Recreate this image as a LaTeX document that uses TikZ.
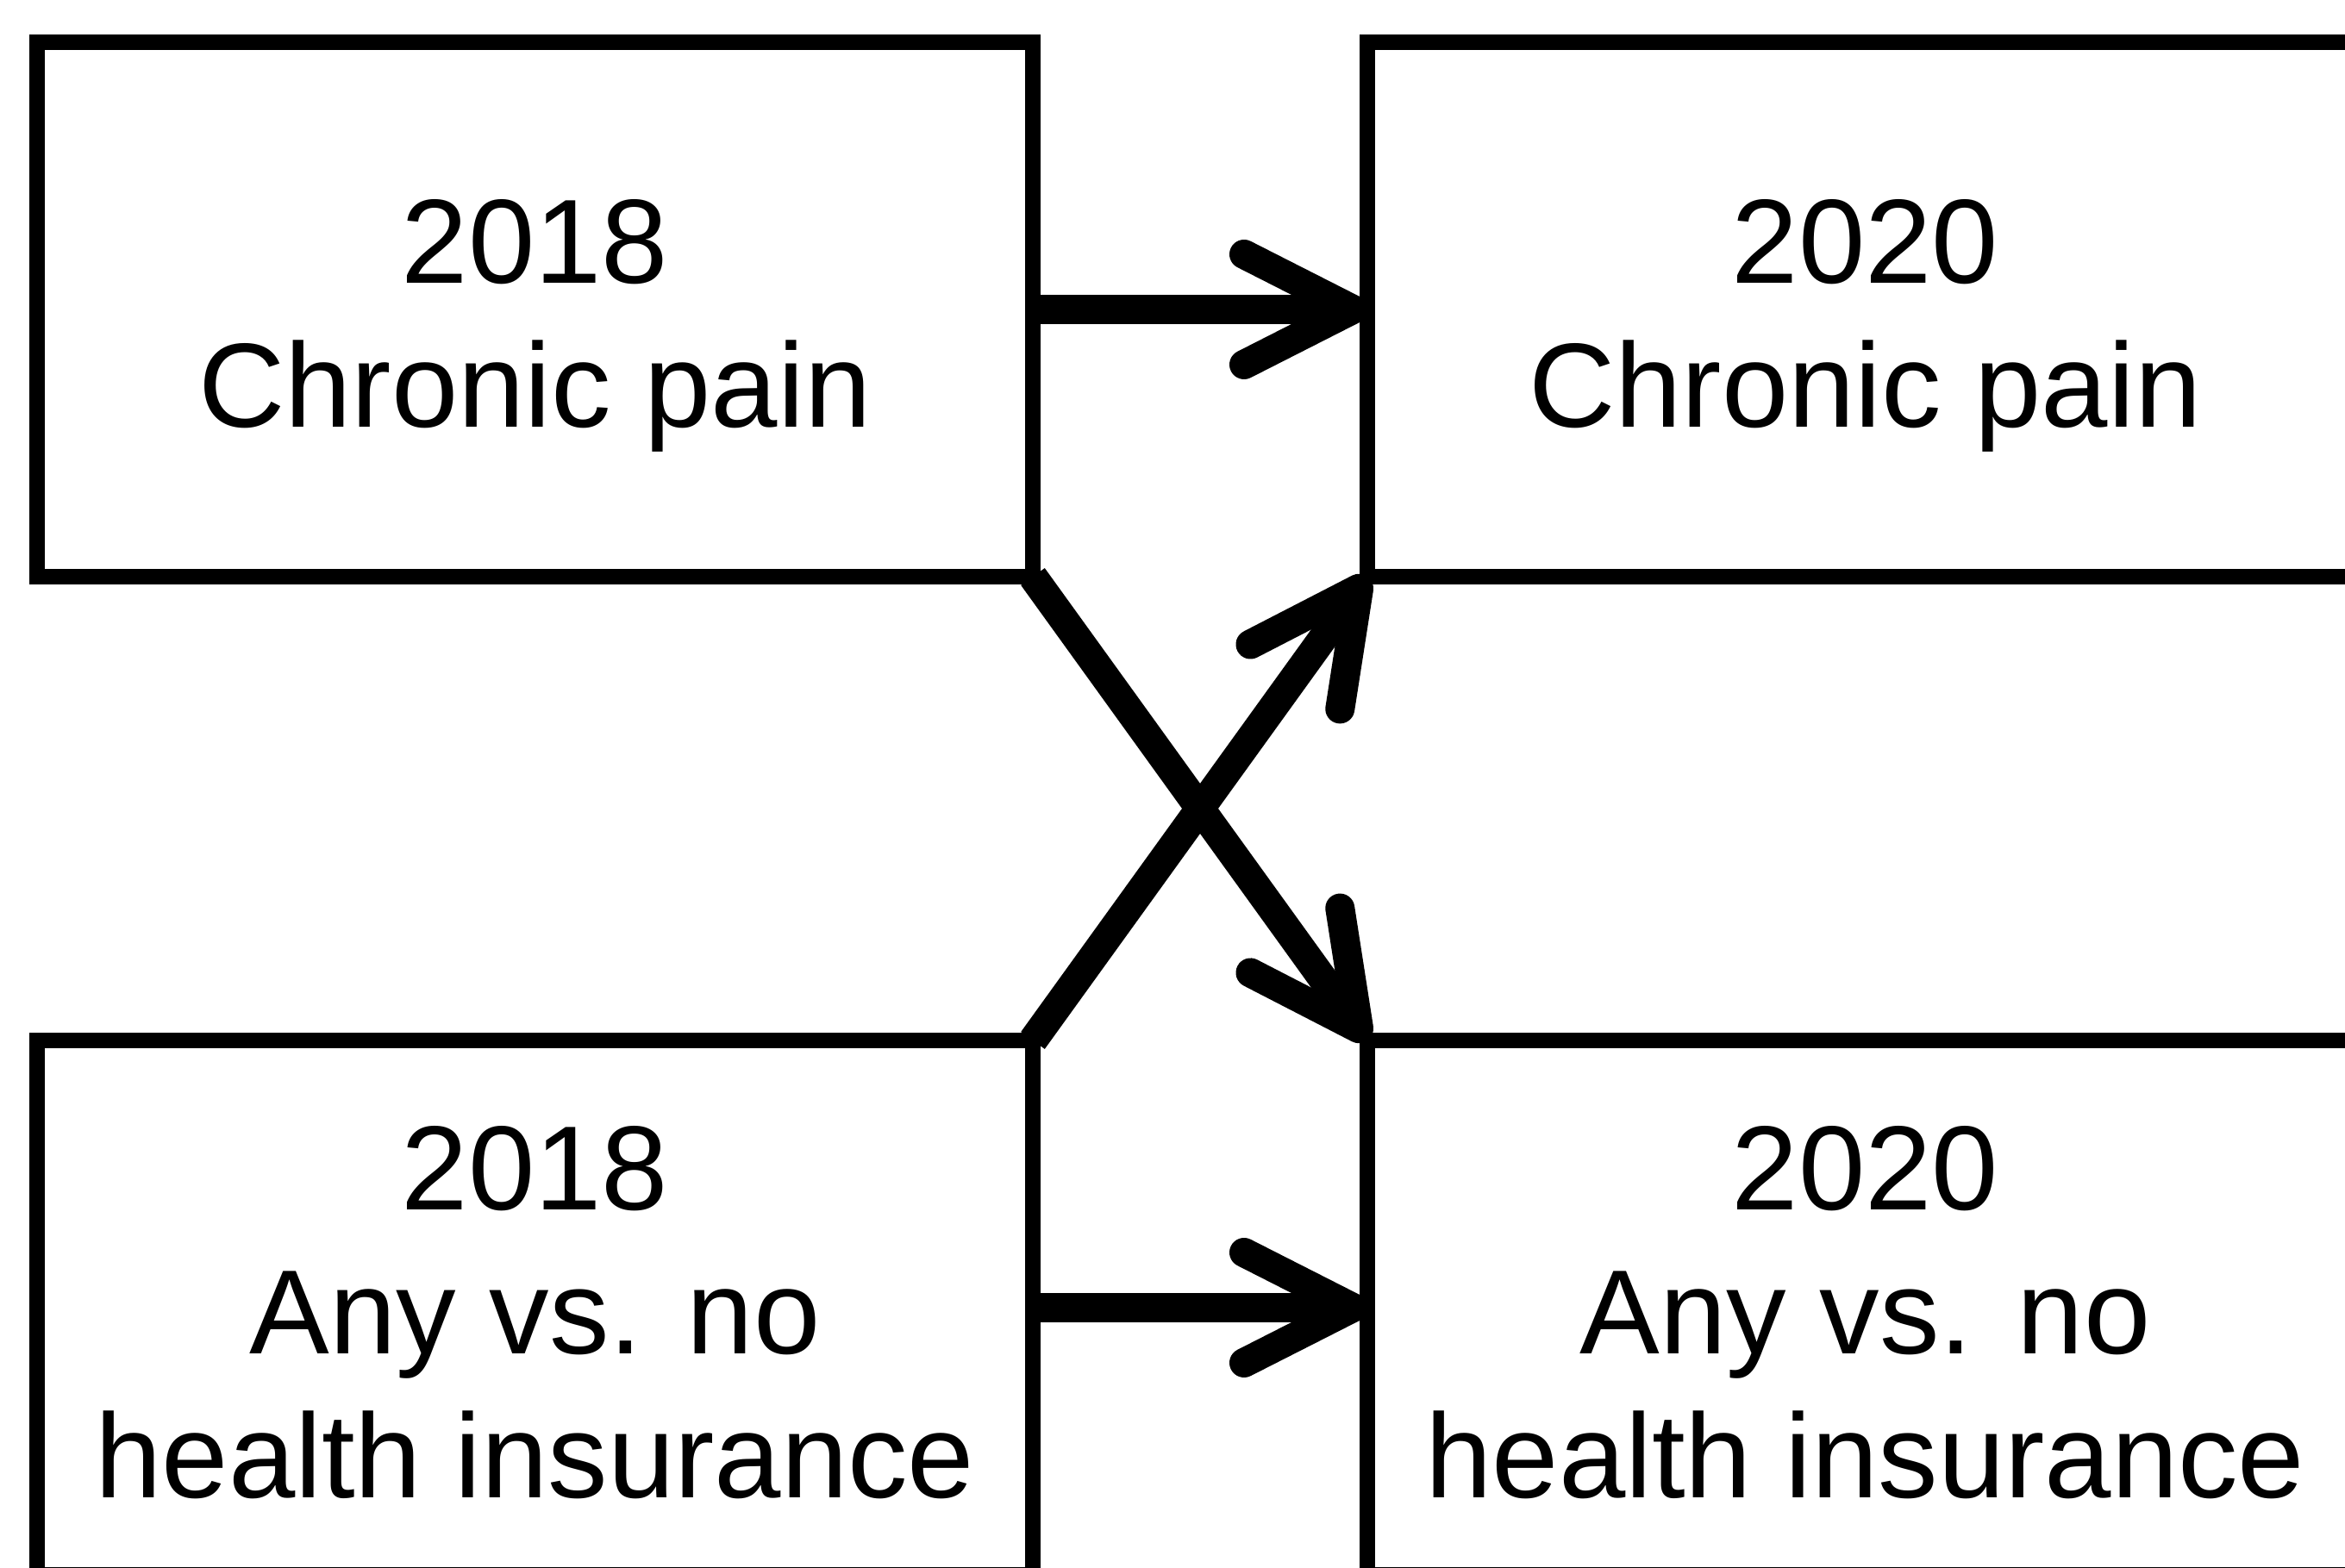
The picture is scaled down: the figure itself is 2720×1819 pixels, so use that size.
\documentclass[tikz,border=0pt]{standalone}
\usepackage{fontspec}
\setmainfont{Liberation Sans}
\usetikzlibrary{arrows.meta,positioning}
\newcommand{\lnstrut}{\rule[-15pt]{0pt}{83.5pt}}

\begin{document}
\begin{tikzpicture}[x=0.5pt,y=0.5pt,
    box/.style={draw,fill=white,line width=9pt,minimum width=577.5pt,
      minimum height=310pt,inner sep=0pt,outer sep=0pt,align=center,
      font=\fontsize{69.5}{83.5}\selectfont},
    link/.style={line width=17pt,-{Straight Barb[round,length=63pt,width=64pt]}}]
  \useasboundingbox (0,0) rectangle (2720,1819);
  \clip (0,0) rectangle (2720,1819);
  % 2018 wave on the left, 2020 wave on the right
  \node[box] (pain18) at (620.5,1460) {\lnstrut 2018\\\lnstrut Chronic pain};
  \node[box,right=194pt of pain18] (pain20) {\lnstrut 2020\\\lnstrut Chronic pain};
  \node[box,below=269pt of pain18] (ins18)
    {\lnstrut 2018\\\lnstrut Any vs. no\\\lnstrut health insurance};
  \node[box,right=194pt of ins18] (ins20)
    {\lnstrut 2020\\\lnstrut Any vs. no\\\lnstrut health insurance};
  \draw[link] (pain18) -- (pain20);
  \draw[link] (ins18) -- (ins20);
  \draw[link] (pain18.south east) -- (ins20.north west);
  \draw[link] (ins18.north east) -- (pain20.south west);
\end{tikzpicture}
\end{document}
